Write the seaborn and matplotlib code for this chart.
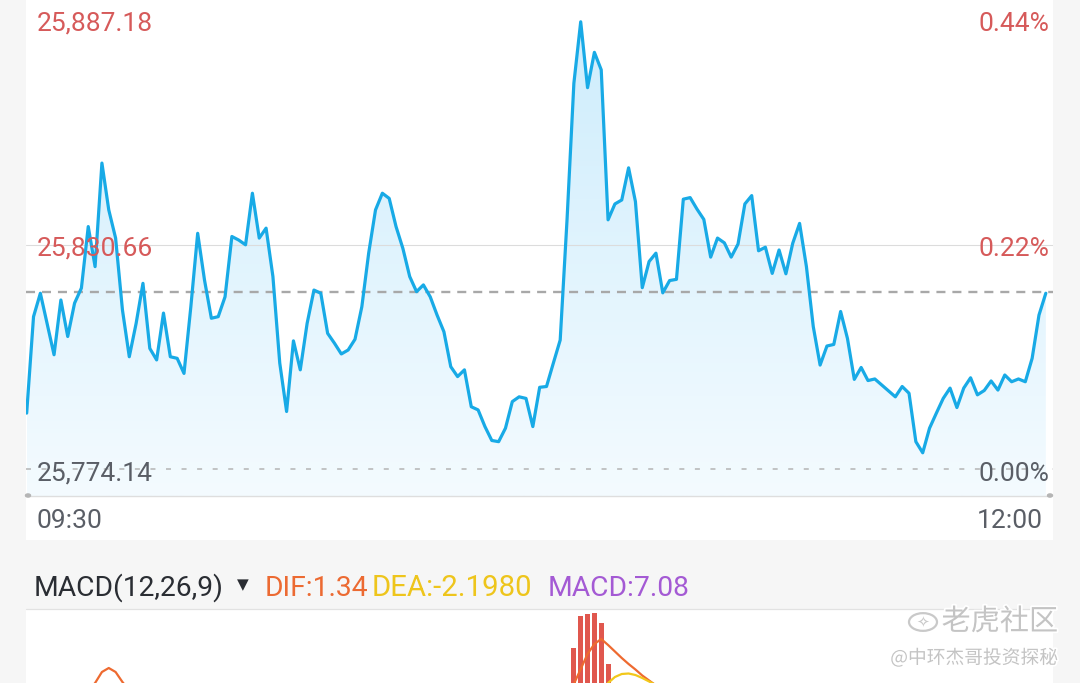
import numpy as np
import pandas as pd
import matplotlib
matplotlib.use("Agg")
import matplotlib.pyplot as plt
import matplotlib.patheffects as pe
from matplotlib.patches import Rectangle, Circle
from matplotlib.lines import Line2D
import seaborn as sns

# ---------------- data ----------------
price = [
    25788.3, 25812.6, 25818.5, 25810.8, 25803.0, 25816.8, 25807.6, 25816.0, 25819.8, 25835.3,
    25825.2, 25851.3, 25839.5, 25832.4, 25814.3, 25802.5, 25810.9, 25821.0, 25804.6, 25801.7,
    25813.5, 25802.5, 25802.1, 25798.3, 25815.1, 25833.6, 25821.8, 25812.2, 25812.6, 25817.6,
    25832.8, 25831.9, 25830.7, 25843.7, 25832.4, 25834.9, 25822.7, 25800.9, 25788.7, 25806.5,
    25799.2, 25810.9, 25819.3, 25818.5, 25808.4, 25805.9, 25803.2, 25804.2, 25806.9, 25815.1,
    25828.6, 25839.5, 25843.7, 25842.4, 25835.3, 25829.8, 25822.7, 25818.9, 25820.6, 25817.6,
    25813.0, 25808.8, 25800.0, 25797.5, 25799.2, 25789.9, 25789.1, 25784.9, 25781.4, 25781.1,
    25784.5, 25791.2, 25792.4, 25792.0, 25784.9, 25794.8, 25795.0, 25800.9, 25806.7, 25837.0,
    25871.4, 25886.9, 25870.3, 25879.2, 25874.8, 25837.0, 25841.0, 25842.0, 25850.1, 25841.6,
    25819.9, 25826.5, 25828.6, 25818.6, 25821.7, 25822.0, 25842.2, 25842.6, 25839.7, 25837.1,
    25827.6, 25832.4, 25831.2, 25827.6, 25830.9, 25841.0, 25843.1, 25829.2, 25830.1, 25823.5,
    25829.4, 25823.4, 25831.1, 25836.1, 25825.2, 25810.1, 25800.4, 25805.2, 25805.6, 25813.9,
    25807.1, 25796.8, 25799.8, 25796.5, 25796.9, 25795.4, 25793.9, 25792.4, 25795.0, 25793.3,
    25781.1, 25778.3, 25784.5, 25788.3, 25792.0, 25794.6, 25789.7, 25794.6, 25797.2, 25792.9,
    25794.0, 25796.4, 25794.1, 25797.9, 25796.2, 25796.9, 25796.2, 25802.1, 25813.0, 25818.5,
]
minutes = list(range(len(price)))
avg_line = 25818.9
y_labels_left = ["25,887.18", "25,830.66", "25,774.14"]
y_levels = [25887.18, 25830.66, 25774.14]
y_labels_right = ["0.44%", "0.22%", "0.00%"]
x_labels = ["09:30", "12:00"]

# MACD panel (only the visible top part of the sub-chart)
macd_title = "MACD(12,26,9)"
dif_text, dea_text, macd_text = "DIF:1.34", "DEA:-2.1980", "MACD:7.08"
hist_idx = [80, 81, 82, 83, 84, 85]
hist_vals = [14.0, 20.4, 20.8, 21.0, 19.0, 10.8]
dif_left_idx = [9, 10, 11, 12, 13, 14, 15]
dif_left = [5.5, 7.0, 9.2, 10.0, 9.2, 7.2, 5.5]
dif_right_idx = [79, 80, 81, 82, 83, 84, 85, 86, 87, 88, 89, 90, 91, 92]
dif_right = [4.0, 6.8, 9.8, 12.8, 14.8, 15.8, 14.6, 13.3, 12.0, 10.8, 9.7, 8.5, 7.5, 6.5]
dea_idx = [84, 85, 86, 87, 88, 89, 90, 91, 92, 93]
dea_vals = [5.6, 7.0, 8.2, 8.8, 8.9, 8.6, 8.0, 7.3, 6.6, 5.8]

# ---------------- style ----------------
sns.set_style("white")
plt.rcParams["font.family"] = ["Roboto", "DejaVu Sans"]
plt.rcParams["lines.scale_dashes"] = False

W, H = 1080, 683
fig = plt.figure(figsize=(W / 100, H / 100), dpi=100)
fig.patch.set_facecolor("#f6f6f6")

def fx(x):
    return x / W

def fy(y):
    return 1 - y / H

# white panels (behind the axes)
fig.patches.append(Rectangle((fx(26), fy(540)), fx(1053) - fx(26), fy(0) - fy(540),
                             transform=fig.transFigure, facecolor="white", edgecolor="none", zorder=-5))
fig.patches.append(Rectangle((fx(26), fy(683)), fx(1053) - fx(26), fy(609) - fy(683),
                             transform=fig.transFigure, facecolor="white", edgecolor="none", zorder=-5))

RED = "#d65a5a"
GRAY_TXT = "#5a5e66"
LINE = "#18aae6"

# ---------------- main chart ----------------
ax = fig.add_axes([fx(26), fy(496), fx(1053) - fx(26), fy(0) - fy(496)])
ax.set_facecolor("none")
ytop, ybot = 25892.39, 25767.41

# gradient fill under the line
n = 256
top_c = np.array([204, 236, 252]) / 255
bot_c = np.array([244, 251, 255]) / 255
t = np.linspace(0, 1, n)[:, None]
grad = top_c[None, :] * (1 - t) + bot_c[None, :] * t
grad = np.repeat(grad[:, None, :], 2, axis=1)
poly = ax.fill_between(minutes, price, ybot, color="none", lw=0)
im = ax.imshow(grad, extent=[0, len(price) - 1, ybot, ytop], aspect="auto", origin="upper", zorder=1)
im.set_clip_path(poly.get_paths()[0], transform=ax.transData)

# grid / reference lines
ax.axhline(y_levels[1], color="#dcdcdc", lw=0.8, zorder=2)
ax.axhline(avg_line, color="#a8a8a8", lw=1.7, dashes=(6.5, 5.0), zorder=2)
ax.axhline(y_levels[2], color="#b4b4b4", lw=1.1, dashes=(3.6, 7.6), zorder=2)

df = pd.DataFrame({"minute": minutes, "price": price})
sns.lineplot(data=df, x="minute", y="price", ax=ax, color=LINE, lw=2.3, zorder=3)

ax.set_xlim(-0.1, 150.05)
ax.set_ylim(ybot, ytop)
ax.set_xticks([])
ax.set_yticks([])
ax.set_xlabel("")
ax.set_ylabel("")
for s in ax.spines.values():
    s.set_visible(False)

# axis line at bottom with end dots
fig.add_artist(Line2D([fx(28), fx(1050)], [fy(495.5), fy(495.5)], transform=fig.transFigure,
                      color="#dedede", lw=1.0))
for xd in (28, 1050):
    fig.add_artist(Circle((fx(xd), fy(495.5)), 2.5 / W, transform=fig.transFigure,
                          color="#b5b5b5", zorder=5))

# labels
ys = [24, 249, 474]
for lab, yy, col in zip(y_labels_left, ys, [RED, RED, GRAY_TXT]):
    fig.text(fx(37), fy(yy), lab, color=col, fontsize=19, ha="left", va="center", zorder=6)
for lab, yy, col in zip(y_labels_right, ys, [RED, RED, GRAY_TXT]):
    fig.text(fx(1049), fy(yy), lab, color=col, fontsize=19, ha="right", va="center", zorder=6)
fig.text(fx(37), fy(521), x_labels[0], color=GRAY_TXT, fontsize=19, ha="left", va="center")
fig.text(fx(1043), fy(521), x_labels[1], color=GRAY_TXT, fontsize=19, ha="right", va="center")

# ---------------- MACD header ----------------
fig.text(fx(34), fy(588), macd_title, color="#2a2d33", fontsize=20.3, ha="left", va="center")
fig.text(fx(237), fy(585), "\u25BC", color="#2a2d33", fontsize=11, ha="left", va="center",
         family=["DejaVu Sans"])
fig.text(fx(265), fy(588), dif_text, color="#ec6a32", fontsize=20.3, ha="left", va="center")
fig.text(fx(372), fy(588), dea_text, color="#eec51c", fontsize=21.2, ha="left", va="center")
fig.text(fx(548), fy(588), macd_text, color="#a45ad4", fontsize=20.3, ha="left", va="center")
fig.add_artist(Line2D([fx(26), fx(1053)], [fy(608.5), fy(608.5)], transform=fig.transFigure,
                      color="#e2e2e2", lw=0.9))

# ---------------- MACD sub-chart ----------------
ax2 = fig.add_axes([fx(26), fy(683), fx(1053) - fx(26), fy(609) - fy(683)])
ax2.set_facecolor("none")
ax2.bar(hist_idx, hist_vals, width=0.74, color="#e0574e", lw=0, zorder=2)
sns.lineplot(x=dif_left_idx, y=dif_left, ax=ax2, color="#ee6a30", lw=1.6, zorder=3)
sns.lineplot(x=dif_right_idx, y=dif_right, ax=ax2, color="#ee6a30", lw=1.6, zorder=3)
sns.lineplot(x=dea_idx, y=dea_vals, ax=ax2, color="#f2c81a", lw=1.6, zorder=3)
ax2.set_xlim(-0.1, 150.05)
ax2.set_ylim(7.0, 21.8)
ax2.set_xticks([])
ax2.set_yticks([])
for s in ax2.spines.values():
    s.set_visible(False)

# ---------------- watermark ----------------
stroke = [pe.withStroke(linewidth=2.5, foreground="white")]
fig.add_artist(Circle((fx(923), fy(622)), 14 / W, transform=fig.transFigure,
                      facecolor="none", edgecolor="#c9c9c9", lw=1.6, zorder=6))
fig.text(fx(923), fy(622), "\u2727", color="#c9c9c9", fontsize=11, ha="center", va="center",
         family=["DejaVu Sans"], zorder=6)
fig.text(fx(1058), fy(622), "老虎社区", color="#c4c4c4", fontsize=21,
         family=["Noto Sans CJK SC", "DejaVu Sans"], ha="right", va="center",
         path_effects=stroke, zorder=6)
fig.text(fx(1058), fy(658), "@中环杰哥投资探秘", color="#c4c4c4", fontsize=13.5,
         family=["Noto Sans CJK SC", "DejaVu Sans"], ha="right", va="center",
         path_effects=stroke, zorder=6)

fig.savefig("out.png", dpi=100, facecolor=fig.get_facecolor())
